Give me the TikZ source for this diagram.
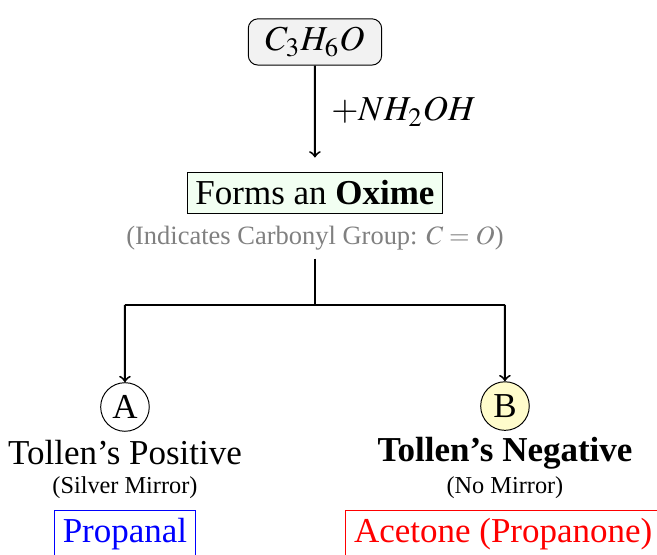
\documentclass[tikz,border=0pt]{standalone}
\usepackage{mathptmx}
\usepackage{fontspec}
\setmainfont{Liberation Serif}
\usetikzlibrary{positioning}
\usetikzlibrary{shapes,arrows}

\tikzset{
  formula/.style={draw, rounded corners=4pt, fill=gray!10, inner xsep=7pt, font=\Large},
  result/.style={draw, fill=green!5, font=\Large},
  test/.style={circle, draw, minimum size=20pt, inner sep=1pt, font=\Large},
  flow/.style={thick, ->}
}

\begin{document}
\begin{tikzpicture}[scale=0.959]
\useasboundingbox (0,0) rectangle (9.91,-8.37);

\node[formula](start) at (4.751, -0.633) {$C_3H_6O$};
\node[result](oxime) at (4.751, -2.911) {Forms an \textbf{Oxime}};
\node[text=gray, font=\fontsize{10.9}{13}\selectfont](note) at (4.751, -3.590) {(Indicates Carbonyl Group: $C = O$)};

\draw[flow, shorten >=6pt](start) -- node[right=3pt, yshift=3pt, font=\Large] {$+NH_2OH$} (oxime);

% split
\coordinate (split) at (4.751, -4.600);
\coordinate (splitA) at (1.885, -4.600);
\coordinate (splitB) at (7.617, -4.600);

\node[test](testA) at (1.885, -6.139) {A};
\node[test, fill=yellow!20](testB) at (7.617, -6.125) {B};

\draw[thick](note.south) -- (split);
\draw[thick](splitA) -- (splitB);
\draw[flow](splitA) -- (testA);
\draw[flow](splitB) -- (testB);

% left part
\node[font=\Large](posA) at (1.885, -6.83) {Tollen's Positive};
\node[](mirrorA) at (1.885, -7.35) {(Silver Mirror)};
\node[draw=blue, text=blue, font=\Large](nameA) at (1.885, -8.06) {Propanal};

% right part
\node[font=\Large\bfseries](negB) at (7.617, -6.83) {Tollen's Negative};
\node[](mirrorB) at (7.617, -7.35) {(No Mirror)};
\node[draw=red, text=red, font=\Large](nameB) at (7.59, -8.06) {Acetone (Propanone)};

\end{tikzpicture}
\end{document}
